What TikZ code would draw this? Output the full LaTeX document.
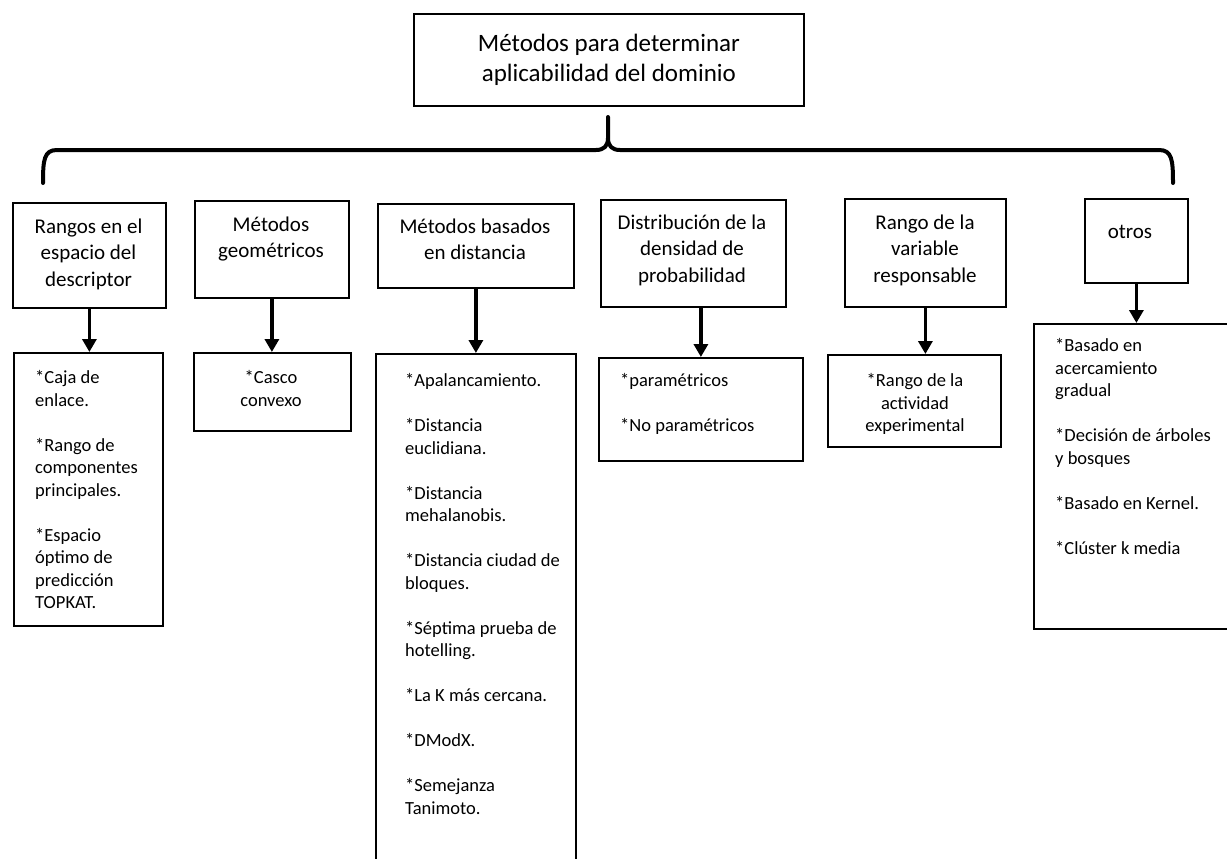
\documentclass[tikz,border=0pt]{standalone}
\usepackage{fontspec}
\setmainfont{Carlito}
\usetikzlibrary{arrows.meta}
\begin{document}
\begin{tikzpicture}[x=1pt,y=-1pt,
  box/.style={draw,line width=1.8pt,inner sep=0pt,anchor=north west},
  ttl/.style={font=\fontsize{25}{30}\selectfont,align=center},
  hd/.style={font=\fontsize{21}{26.5}\selectfont,align=center,anchor=north,inner sep=0pt},
  it/.style={font=\fontsize{18.5}{22.5}\selectfont,align=left,anchor=north west,inner sep=0pt},
  itc/.style={font=\fontsize{18.5}{22.5}\selectfont,align=center,anchor=north,inner sep=0pt},
  arr/.style={line width=3.5pt,-{Triangle[width=14pt,length=13pt]}},
  bracestyle/.style={line width=4pt,line cap=round,line join=round}]
\useasboundingbox (0,0) rectangle (1227,859);
\clip (0,0) rectangle (1227,859);

% title
\node[box,minimum width=390pt,minimum height=92pt,ttl] (title) at (413,13)
  {Métodos para determinar\\aplicabilidad del dominio};

% brace
\coordinate (bl) at (43,183);
\coordinate (br) at (1173,183);
\coordinate (bc) at (608,117);
\draw[bracestyle] (bl) .. controls (43,160) and (44,150) .. (57,150) -- (596,150)
  .. controls (604,150) and (608,146) .. (608,138) -- (bc) -- (608,138)
  .. controls (608,146) and (612,150) .. (620,150) -- (1159,150)
  .. controls (1172,150) and (1173,160) .. (br);

% header boxes
\node[box,minimum width=153pt,minimum height=105pt] (h1) at (12,202) {};
\node[box,minimum width=154pt,minimum height=97pt] (h2) at (194,200) {};
\node[box,minimum width=196pt,minimum height=84pt] (h3) at (377,203) {};
\node[box,minimum width=185pt,minimum height=107pt] (h4) at (600,199) {};
\node[box,minimum width=161pt,minimum height=108pt] (h5) at (844,198) {};
\node[box,minimum width=103pt,minimum height=84pt] (h6) at (1084,198) {};

\node[hd] (t1) at (88.5,214.5) {\strut Rangos en el\\espacio del\\descriptor};
\node[hd] (t2) at (271,212.5) {\strut Métodos\\geométricos};
\node[hd] (t3) at (475,214.5) {\strut Métodos basados\\en distancia};
\node[hd] (t4) at (692,210.5) {\strut Distribución de la\\densidad de\\probabilidad};
\node[hd] (t5) at (925,210.5) {\strut Rango de la\\variable\\responsable};
\node[hd] (t6) at (1130,219.5) {\strut otros};

% bottom boxes
\node[box,minimum width=149pt,minimum height=273pt] (b1) at (13,352) {};
\node[box,minimum width=157pt,minimum height=78pt] (b2) at (193,352) {};
\node[box,minimum width=200pt,minimum height=530pt] (b3) at (375,353) {};
\node[box,minimum width=204pt,minimum height=103pt] (b4) at (598,357) {};
\node[box,minimum width=173pt,minimum height=92pt] (b5) at (827,354) {};
\node[box,minimum width=220pt,minimum height=305pt] (b6) at (1033,323) {};

\node[it] (i1) at (35,368) {\strut*Caja de\\enlace.\\[22.5pt]*Rango de\\componentes\\principales.\\[22.5pt]*Espacio\\óptimo de\\predicción\\TOPKAT.};
\node[itc] (i2) at (271,368) {\strut*Casco\\convexo};
\node[it] (i3) at (405,371) {\strut*Apalancamiento.\\[22.5pt]*Distancia\\euclidiana.\\[22.5pt]*Distancia\\mehalanobis.\\[22.5pt]*Distancia ciudad de\\bloques.\\[22.5pt]*Séptima prueba de\\hotelling.\\[22.5pt]*La K más cercana.\\[22.5pt]*DModX.\\[22.5pt]*Semejanza\\Tanimoto.};
\node[it] (i4) at (620,371) {\strut*paramétricos\\[22.5pt]*No paramétricos};
\node[itc] (i5) at (915,371) {\strut*Rango de la\\actividad\\experimental};
\node[it] (i6) at (1055,336) {\strut*Basado en\\acercamiento\\gradual\\[22.5pt]*Decisión de árboles\\y bosques\\[22.5pt]*Basado en Kernel.\\[22.5pt]*Clúster k media};

% arrows
\draw[arr] (h1.south) -- (b1.north -| h1.south);
\draw[arr] (h2.south) -- (b2.north -| h2.south);
\draw[arr] (h3.south) -- (b3.north -| h3.south);
\draw[arr] (h4.south -| b4.north) -- (b4.north);
\draw[arr] (h5.south) -- (b5.north -| h5.south);
\draw[arr] (h6.south) -- (b6.north -| h6.south);
\end{tikzpicture}
\end{document}
